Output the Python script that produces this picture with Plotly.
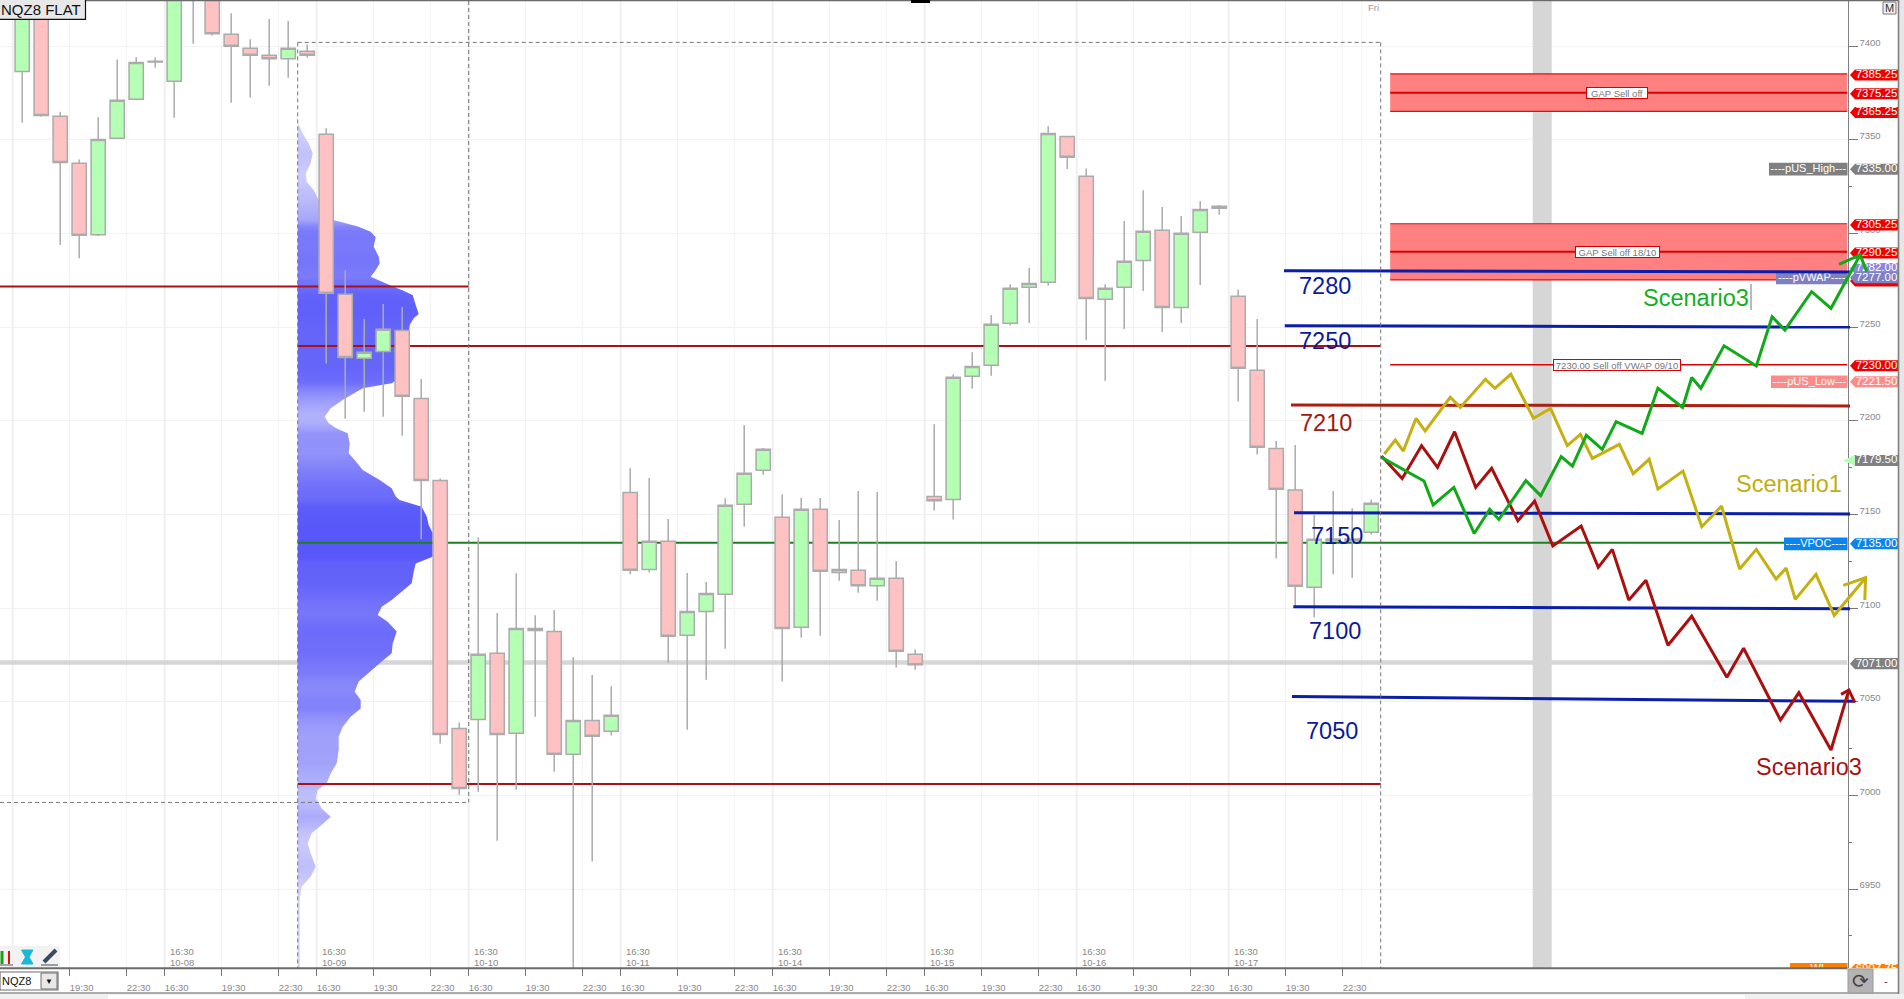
import plotly.graph_objects as go

W, H = 1904, 999
FONT = "Liberation Sans"

# ---------- candles ----------
bar_index = list(range(72))
opens = [7386.6,7425,7362.6,7337.5,7299.4,7350.9,7371.7,7391.6,7381.3,7432,7430,7406.4,7398.9,7395.2,7393.4,7397.3,
         7353.0,7267.6,7233.4,7237.1,7248.3,7212.0,7168.2,7035.8,7040.6,7075.9,7033.2,7089.2,7087.6,7022.0,7040.1,7034.3,
         7161.8,7120.7,7135.7,7085.5,7098.3,7107.4,7155.5,7173.6,7148.5,7089.8,7152.8,7119.1,7120.2,7112.0,7116.0,7075.4,
         7159.6,7158.1,7223.8,7229.7,7252.1,7271.3,7274.0,7351.9,7330.6,7264.9,7271.3,7285.7,7301.8,7260.6,7300.7,7313.5,
         7266.5,7227.0,7185.3,7163.1,7111.2,7137.0,7137.0,7140.5]
highs = [7435,7430,7365.1,7339.6,7362.1,7393.0,7394.1,7394.1,7435,7440,7435,7417.6,7403.7,7414.6,7413.5,7401.0,
         7356.2,7280.6,7254.4,7262.4,7260.8,7222.4,7169.3,7039.0,7137.8,7097.4,7118.6,7096.2,7099.0,7073.8,7064.3,7058.3,
         7174.7,7169.5,7147.6,7118.8,7114.0,7158.7,7197.8,7185.5,7160.8,7158.8,7158.8,7147.1,7162.6,7162.0,7125.2,7078.0,
         7198.2,7224.9,7236.6,7256.5,7272.9,7281.6,7357.3,7351.9,7334.8,7272.9,7306.7,7323.1,7314.2,7309.4,7317.4,7315.3,
         7270.2,7254.4,7189.3,7187.1,7149.8,7162.6,7153.3,7158.0]
lows = [7359.2,7362.4,7293.9,7286.8,7298.7,7350.9,7371.7,7388.6,7361.9,7401.4,7405.7,7369.9,7372.6,7379.0,7383.2,7393.9,
        7230.6,7201.2,7204.9,7202.2,7192.1,7137.0,7027.7,7000.4,7002.0,6975.9,7003.1,7042.1,7012.7,6905.0,6964.7,7032.0,
        7118.1,7119.0,7071.0,7035.1,7061.8,7078.4,7143.5,7171.3,7060.8,7084.3,7085.3,7114.7,7108.3,7104.0,7068.3,7067.2,
        7152.1,7147.3,7217.2,7224.1,7250.9,7252.3,7272.2,7334.5,7243.2,7221.5,7249.1,7269.4,7247.5,7252.3,7272.5,7310.1,
        7210.3,7182.0,7126.6,7100.8,7095.1,7118.1,7116.3,7139.4]
closes = [7430,7363.1,7337.9,7299.1,7350.3,7371.2,7391.4,7392.0,7430,7428,7406.7,7400.0,7395.2,7393.4,7398.9,7395.2,
          7268.1,7233.9,7236.6,7248.9,7213.1,7168.2,7032.6,7003.8,7075.4,7032.6,7089.2,7088.1,7022.0,7040.1,7031.6,7042.8,
          7120.2,7135.7,7085.0,7098.3,7107.9,7154.9,7172.0,7184.8,7089.2,7152.8,7119.7,7120.7,7112.0,7116.0,7077.0,7069.8,
          7157.4,7223.3,7229.1,7251.6,7270.8,7273.4,7353.5,7340.7,7265.4,7270.8,7285.2,7301.2,7260.6,7300.2,7312.9,7314.6,
          7228.1,7185.9,7163.5,7111.7,7136.8,7136.0,7136.0,7156.0]

# ---------- volume profile ----------
profile_prices = [7358.5,7353.5,7348.2,7342.9,7337.5,7332.2,7327.7,7323.3,7317.9,7312.6,7307.3,7305.5,7303.7,7301.0,7298.0,
                  7293.0,7287.7,7284.1,7280.6,7277.0,7274.3,7272.0,7269.9,7267.2,7261.9,7257.1,7254.8,7251.2,7246.7,7239.6,
                  7228.9,7223.6,7220.1,7217.4,7211.2,7206.7,7202.2,7198.7,7196.0,7193.4,7188.0,7182.7,7179.1,7173.8,7168.4,
                  7164.0,7159.6,7157.8,7154.2,7148.9,7144.4,7140.0,7134.6,7127.5,7123.9,7119.5,7113.3,7109.7,7104.4,7100.8,
                  7096.4,7092.8,7087.5,7081.2,7075.9,7070.6,7065.2,7060.8,7055.4,7051.0,7046.5,7042.1,7036.7,7031.4,7024.3,
                  7017.2,7011.8,7006.5,7002.9,6998.5,6993.1,6988.7,6984.2,6979.8,6974.5,6969.1,6962.0,6956.7,6951.3,6944.2,6907.7]
profile_volume = [1,5,11,15,13,8,9,16,21,29,36,49,61,73,78,
                  76,81,82,78,73,84,94,104,115,118,121,116,112,111,111,
                  110,104,94,65,45,33,27,31,39,50,52,51,57,65,82,
                  94,98,102,124,129,131,135,135,135,118,116,114,106,94,84,
                  80,90,99,95,94,82,71,61,57,63,63,53,45,41,41,
                  39,33,29,20,18,24,33,24,14,10,13,18,13,4,2,2]
PROFILE_START = 14.5
VOL_PER_BAR = 19.0

# ---------- levels ----------
poc_level = 7135.0
session_level = 7071.0
red_levels = [(7271.7, -1.2, 23.5), (7240.0, 14.5, 71.5), (7006.1, 14.5, 71.5)]
zones = [(7385.25, 7375.25, 7365.25), (7305.25, 7290.25, 7275.25)]
vwap_level = 7230.0

drawn_x0 = [66.41, 66.45, 66.78, 66.94, 66.9, 66.83]
drawn_p0 = [7280.2, 7250.8, 7208.5, 7151.0, 7100.8, 7052.8]
drawn_x1 = [96.2, 96.2, 96.2, 96.2, 96.2, 96.46]
drawn_p1 = [7279.5, 7250.1, 7208.0, 7150.3, 7099.7, 7050.3]
drawn_col = ["#0a1ea8", "#0a1ea8", "#aa2010", "#0a1ea8", "#0a1ea8", "#0a1ea8"]

drawn_labels = ["7280", "7250", "7210", "7150", "7100", "7050"]
drawn_label_x = [68.57, 68.55, 68.62, 69.22, 69.07, 68.96]
drawn_label_p = [7272.7, 7243.5, 7199.6, 7139.4, 7088.7, 7035.0]
drawn_label_col = ["#0a1a9a", "#0a1a9a", "#a01810", "#0a1a9a", "#0a1a9a", "#0a1a9a"]

# ---------- scenarios ----------
red_x = [71.54,72.63,73.65,74.49,75.39,76.50,77.34,78.72,79.60,80.56,82.05,82.95,83.69,84.56,85.46,86.62,87.87,89.72,90.60,92.54,93.51,95.20,96.14,None,95.73,96.14,96.46]
red_p = [7181.3,7169.3,7186.8,7175.2,7194.2,7164.5,7174.7,7146.7,7157.2,7133.2,7143.9,7121.8,7131.4,7104.4,7114.9,7080.2,7095.7,7063.1,7078.6,7040.3,7054.9,7024.3,7056.3,None,7054.0,7056.3,7049.6]
yellow_x = [71.69,72.27,72.69,73.36,73.84,75.16,75.69,77.01,77.51,78.35,79.54,80.44,81.32,82.01,82.64,84.06,84.79,85.63,86.09,87.41,88.40,89.44,90.39,91.27,92.31,92.84,93.32,94.41,95.37,97.02,None,95.85,97.02,96.98]
yellow_p = [7182.3,7189.8,7183.9,7201.4,7194.6,7212.6,7207.2,7222.2,7217.4,7224.9,7201.4,7206.7,7186.8,7192.8,7180.0,7187.5,7171.8,7179.5,7163.6,7173.2,7143.5,7154.5,7120.9,7131.4,7115.6,7121.4,7104.7,7118.1,7096.2,7116.3,None,7112.2,7116.3,7104.4]
green_x = [71.54,73.78,74.26,75.35,76.42,77.24,77.72,79.14,79.92,81.00,81.59,82.32,83.16,83.89,85.26,86.09,87.39,87.87,88.35,89.57,91.27,92.10,92.77,94.18,95.20,96.73,None,95.62,96.73,97.09]
green_p = [7180.5,7167.9,7155.1,7164.5,7139.9,7152.8,7147.4,7168.1,7160.1,7180.9,7175.9,7192.3,7184.8,7199.6,7193.3,7217.4,7207.2,7223.2,7217.4,7240.1,7229.3,7255.6,7248.5,7269.0,7260.1,7288.6,None,7283.6,7288.6,7279.7]

scenario_labels = ["Scenario3", "Scenario1", "Scenario3"]
scenario_label_x = [88.09, 92.99, 94.02]
scenario_label_p = [7266.3, 7167.0, 7016.0]
scenario_label_col = ["#10b020", "#bfae10", "#a81010"]

# ---------- axis text ----------
y_ticks = [7400, 7350, 7300, 7250, 7200, 7150, 7100, 7050, 7000, 6950]
y_minor = [7325, 7175, 7125, 7025, 6975, 6925]
time_ticks = [2.5,5.5,7.5,10.5,13.5,15.5,18.5,21.5,23.5,26.5,29.5,31.5,34.5,37.5,39.5,42.5,45.5,47.5,50.5,53.5,55.5,58.5,61.5,63.5,66.5,69.5]
time_text = ["19:30","22:30","16:30","19:30","22:30","16:30","19:30","22:30","16:30","19:30","22:30","16:30","19:30","22:30","16:30","19:30","22:30","16:30","19:30","22:30","16:30","19:30","22:30","16:30","19:30","22:30"]
day_ticks = [7.5, 15.5, 23.5, 31.5, 39.5, 47.5, 55.5, 63.5]
day_text = ["10-08","10-09","10-10","10-11","10-14","10-15","10-16","10-17"]

# ---------- right-hand tags ----------
tag_prices = [7385.25,7375.25,7365.25,7335.00,7305.25,7290.25,7275.25,7282.00,7277.00,7230.00,7221.50,7179.50,7135.00,7071.00,6907.75]
tag_text = ["7385.25","7375.25","7365.25","7335.00","7305.25","7290.25","","7282.00","7277.00","7230.00","7221.50","7179.50","7135.00","7071.00","6907.75"]
tag_col = ["#ee0000","#ee0000","#ee0000","#808080","#ee0000","#ee0000","#ee0000","#8888e0","#8080c0","#ee0000","#ff8a8a","#808080","#0a84f0","#808080","#ff8000"]
box_text = ["----pUS_High---","----pVWAP----","----pUS_Low---","----VPOC----","----WL----"]
box_price = [7335.0,7277.0,7221.5,7135.0,6907.75]
box_left = [1769,1776,1771,1784,1790]
box_col = ["#808080","#8080c0","#ff8a8a","#0a84f0","#ff8000"]

# ---------- pixel frame ----------
PLOT_R, PLOT_T, PLOT_B = 1847.5, 1.0, 968.3
X_OFF, X_STEP = 22.2, 19.0
Y_REF, Y_K = 46.3, 1.873
x_range = [(0 - X_OFF) / X_STEP, (PLOT_R - X_OFF) / X_STEP]
x2_range = [(0 - X_OFF) / X_STEP, (W - X_OFF) / X_STEP]
y_range = [7400 + (Y_REF - PLOT_B) / Y_K, 7400 + (Y_REF - PLOT_T) / Y_K]
TAG_NUDGE = -0.6


def fx(x):
    return x / W


def fy(y):
    return 1 - y / H


def bx(px):
    return (px - X_OFF) / X_STEP


shapes = []


def rect(x0, y0, x1, y1, fill, line=None, lw=0, layer="above"):
    shapes.append(dict(type="rect", xref="paper", yref="paper", x0=fx(x0), x1=fx(x1), y0=fy(y1), y1=fy(y0),
                       fillcolor=fill, line=dict(color=line or fill, width=lw), layer=layer))


def pline(x0, y0, x1, y1, col, w=1, layer="above"):
    shapes.append(dict(type="line", xref="paper", yref="paper", x0=fx(x0), x1=fx(x1), y0=fy(y0), y1=fy(y1),
                       line=dict(color=col, width=w), layer=layer))


def dline(x0, p0, x1, p1, col, w=1, dash=None, layer="between"):
    shapes.append(dict(type="line", xref="x", yref="y", x0=x0, x1=x1, y0=p0, y1=p1,
                       line=dict(color=col, width=w, dash=dash), layer=layer))


for d in [-0.5] + day_ticks:
    dline(d, y_range[0], d, y_range[1], "#f0f0f0", 2)
dline(70.5, y_range[0], 70.5, y_range[1], "#f2f2f2", 1)

shapes.append(dict(type="rect", xref="x", yref="y", x0=79.5, x1=80.5, y0=y_range[0], y1=7424.0,
                   fillcolor="#d6d6d6", line=dict(width=0), layer="between"))
dline(x_range[0], session_level, x_range[1], session_level, "#d6d6d6", 4.5)

for top, mid, low in zones:
    shapes.append(dict(type="rect", xref="x", yref="y", x0=72, x1=x_range[1], y0=low, y1=top,
                       fillcolor="#ff8080", line=dict(width=0), layer="between"))
    dline(72, top, x_range[1], top, "#dd1010", 1.2)
    dline(72, low, x_range[1], low, "#dd1010", 1.2)
    dline(72, mid, x_range[1], mid, "#dd0000", 2)
dline(72, vwap_level, x_range[1], vwap_level, "#dd0000", 1.6)

dash_c = "#777777"
DASH = "4px,3px"
dline(14.5, 7402.1, 71.5, 7402.1, dash_c, 1, DASH, "above")
dline(14.5, 7402.1, 14.5, y_range[0], dash_c, 1, DASH, "above")
dline(71.5, 7402.1, 71.5, y_range[0], dash_c, 1, DASH, "above")
dline(23.5, y_range[1], 23.5, 6996.3, dash_c, 1, DASH, "above")
dline(x_range[0], 6996.3, 23.5, 6996.3, dash_c, 1, DASH, "above")


def tag_path(price, half=2.95, tip=1850.0, neck=1855.0, right=1898.0):
    price = price + TAG_NUDGE
    return (f"M {bx(tip)},{price} L {bx(neck)},{price + half} L {bx(right)},{price + half} "
            f"L {bx(right)},{price - half} L {bx(neck)},{price - half} Z")


for p, c in zip(tag_prices, tag_col):
    shapes.append(dict(type="path", xref="x2", yref="y2", path=tag_path(p), fillcolor=c,
                       line=dict(width=0), layer="between"))
shapes.append(dict(type="path", xref="x2", yref="y2",
                   path=f"M {bx(1843)},7178.9 L {bx(1855)},7181.8 L {bx(1855)},7176.0 Z",
                   fillcolor="#b4ffb4", line=dict(width=0), layer="between"))
for lft, p, c in zip(box_left, box_price, box_col):
    shapes.append(dict(type="rect", xref="x2", yref="y2", x0=bx(lft), x1=bx(PLOT_R),
                       y0=p + TAG_NUDGE - 3.4, y1=p + TAG_NUDGE + 3.4,
                       fillcolor=c, line=dict(width=0), layer="between"))

pline(1751, 284, 1751, 310, "#777777", 1)

pline(0, 0.5, W, 0.5, "#6a6a6a", 1.6)
pline(0, PLOT_B, PLOT_R, PLOT_B, "#6a6a6a", 2)
rect(911, 0, 930, 3, "#000000")
rect(1898, 0, 1904, H, "#e6e6e6")
pline(1898.5, 0, 1898.5, H, "#808080", 1.6)
rect(1883, 2, 1896, 14, "#f0f0f0", "#777777", 1)
rect(0, 946, 60, 967, "#f2f2f2")
rect(0, 994, W, H, "#f0f0f0")
rect(108, 995, 1745, H, "#ffffff")
pline(0, 993, 1898, 993, "#909090", 1.6)
pline(2, 951, 2, 964, "#18a018", 3)
pline(9, 951, 9, 964, "#e01010", 2)
pline(0, 965, 13, 965, "#555555", 1)
shapes.append(dict(type="path", xref="paper", yref="paper", fillcolor="#18b8d8", line=dict(color="#18b8d8", width=1),
                   path=f"M {fx(21.5)},{fy(950)} L {fx(33)},{fy(950)} L {fx(29)},{fy(957)} L {fx(33)},{fy(964)} "
                        f"L {fx(21.5)},{fy(964)} L {fx(25.5)},{fy(957)} Z", layer="above"))
pline(44, 962, 56, 950, "#3a4a60", 4)
pline(41, 965, 58, 965, "#3a4a60", 1)
rect(0, 972, 58, 990, "#ffffff", "#707070", 1.2)
rect(41, 973, 57, 989, "#e8e8e8", "#707070", 1)
rect(1848, 969, 1873, 993, "#b4b4b4", "#999999", 1)
rect(-2, -2, 85.5, 19.3, "#e8e8e8", "#111111", 1.2)

annotations = []


def ann(text, x, y, size, col, xref="x", yref="y", xanchor="center", yanchor="middle", **kw):
    annotations.append(dict(text=text, x=x, y=y, xref=xref, yref=yref, xanchor=xanchor, yanchor=yanchor,
                            showarrow=False, font=dict(family=FONT, size=size, color=col), **kw))


for t, x, p, c in zip(drawn_labels, drawn_label_x, drawn_label_p, drawn_label_col):
    ann(t, x, p, 23.5, c, yshift=-1.2)
for t, x, p, c in zip(scenario_labels, scenario_label_x, scenario_label_p, scenario_label_col):
    ann(t, x, p, 23.5, c, yshift=-1)

zone_text = ["GAP Sell off", "GAP Sell off 18/10", "7230.00 Sell off VWAP 09/10"]
zone_price = [7375.25, 7290.25, 7230.0]
zone_w = [60, 83, 126]
for t, p, w_ in zip(zone_text, zone_price, zone_w):
    ann(t, 83.94, p, 9.5, "#777777", bgcolor="#ffffff", bordercolor="#dd0000", borderwidth=1, borderpad=0,
        width=w_, height=10)

for d, t in zip(day_ticks, day_text):
    ann("16:30", fx(X_OFF + X_STEP * d + 3), fy(951.7), 9.5, "#888888", xref="paper", yref="paper", xanchor="left")
    ann(t, fx(X_OFF + X_STEP * d + 3), fy(962.3), 9.5, "#888888", xref="paper", yref="paper", xanchor="left")
ann("Fri", fx(1366), fy(7.3), 9.5, "#999999", xref="paper", yref="paper", xanchor="left")
ann("M", fx(1889.5), fy(8), 11, "#333333", xref="paper", yref="paper")
ann("NQZ8 FLAT", fx(-1), fy(9.5), 15, "#111111", xref="paper", yref="paper", xanchor="left")
ann("NQZ8", fx(0), fy(981), 11, "#111111", xref="paper", yref="paper", xanchor="left")
ann("▼", fx(49), fy(981), 8, "#111111", xref="paper", yref="paper")
ann("⟳", fx(1860.5), fy(981), 20, "#444444", xref="paper", yref="paper")
ann("-", fx(1886), fy(981), 11, "#333333", xref="paper", yref="paper")


def shade(v):
    c = 215 - 1.34 * v if v < 65 else 128 - 0.58 * (v - 65)
    c = int(max(c, 80))
    return f"rgb({c},{c},250)"


fig = go.Figure()

asc = sorted(zip(profile_prices, profile_volume))
p_lo, p_hi = asc[0][0], asc[-1][0]
stops = [[(p - p_lo) / (p_hi - p_lo), shade(v)] for p, v in asc]
fig.add_trace(go.Scatter(
    x=[PROFILE_START + v / VOL_PER_BAR for v in profile_volume] + [PROFILE_START, PROFILE_START],
    y=profile_prices + [profile_prices[-1], profile_prices[0]],
    mode="lines", line=dict(width=0), fill="toself",
    fillgradient=dict(type="vertical", colorscale=stops, start=p_lo, stop=p_hi),
    hoverinfo="skip", showlegend=False))
for p, x0, x1 in red_levels:
    fig.add_trace(go.Scatter(x=[x0, x1], y=[p, p], mode="lines", line=dict(color="#aa1018", width=2),
                             showlegend=False, hoverinfo="skip"))
fig.add_trace(go.Scatter(x=[14.5, x_range[1]], y=[poc_level, poc_level], mode="lines",
                         line=dict(color="#1a8020", width=2), showlegend=False, hoverinfo="skip"))

fig.add_trace(go.Candlestick(
    x=bar_index, open=opens, high=highs, low=lows, close=closes, xaxis="x2", yaxis="y2", whiskerwidth=0,
    increasing=dict(fillcolor="#b4ffb4", line=dict(color="#ababab", width=1.5)),
    decreasing=dict(fillcolor="#ffc2c2", line=dict(color="#ababab", width=1.5)),
    showlegend=False))
for t, lft, p in zip(box_text, box_left, box_price):
    fig.add_trace(go.Scatter(x=[bx((lft + PLOT_R) / 2)], y=[p + TAG_NUDGE], mode="text", text=[t], xaxis="x2", yaxis="y2",
                             textfont=dict(family=FONT, size=11, color="#ffffff"),
                             showlegend=False, hoverinfo="skip"))
fig.add_trace(go.Scatter(x=[bx(1876.5)] * len(tag_prices), y=[p + TAG_NUDGE for p in tag_prices], mode="text", text=tag_text,
                         xaxis="x2", yaxis="y2", textfont=dict(family=FONT, size=11.5, color="#ffffff"),
                         showlegend=False, hoverinfo="skip"))
for x0, p0, x1, p1, c in zip(drawn_x0, drawn_p0, drawn_x1, drawn_p1, drawn_col):
    fig.add_trace(go.Scatter(x=[x0, x1], y=[p0, p1], mode="lines", xaxis="x2", yaxis="y2",
                             line=dict(color=c, width=3), showlegend=False, hoverinfo="skip"))
for xs, ps, c in [(yellow_x, yellow_p, "#c4b010"), (red_x, red_p, "#aa1010"), (green_x, green_p, "#10aa18")]:
    fig.add_trace(go.Scatter(x=xs, y=ps, mode="lines", xaxis="x2", yaxis="y2",
                             line=dict(color=c, width=3), showlegend=False, hoverinfo="skip"))

dom_x = [0, PLOT_R / W]
dom_y = [1 - PLOT_B / H, 1 - PLOT_T / H]
tick_font = dict(family=FONT, size=9.5, color="#888888")
fig.update_layout(
    width=W, height=H, margin=dict(l=0, r=0, t=0, b=0), paper_bgcolor="#ffffff", plot_bgcolor="rgba(0,0,0,0)",
    showlegend=False, boxgap=0.25, boxgroupgap=0, shapes=shapes, annotations=annotations,
    xaxis=dict(domain=dom_x, range=x_range, tickmode="array", tickvals=time_ticks, ticktext=time_text,
               showgrid=True, gridcolor="#f2f2f2", gridwidth=1, zeroline=False, ticks="outside", ticklen=7,
               tickcolor="#777777", tickfont=tick_font, ticklabelstandoff=3, ticklabelshift=12,
               showline=False, rangeslider=dict(visible=False), anchor="y"),
    yaxis=dict(domain=dom_y, range=y_range, side="right", tickmode="array", tickvals=y_ticks,
               showgrid=True, gridcolor="#f2f2f2", gridwidth=1, zeroline=False, ticks="outside", ticklen=9,
               tickcolor="#777777", tickfont=tick_font, ticklabelshift=-4, ticklabelstandoff=0,
               showline=True, linecolor="#808080", linewidth=1.2, anchor="x",
               minor=dict(tickmode="array", tickvals=y_minor, ticks="outside", ticklen=3, tickcolor="#777777", showgrid=False)),
    xaxis2=dict(domain=[0, 1], range=x2_range, visible=False, anchor="y2", rangeslider=dict(visible=False)),
    yaxis2=dict(domain=dom_y, range=y_range, visible=False, anchor="x2", side="right"),
)

fig.write_html("out.html", config=dict(displayModeBar=False),
               post_script="document.body.style.margin='0';document.body.style.overflow='hidden';")
